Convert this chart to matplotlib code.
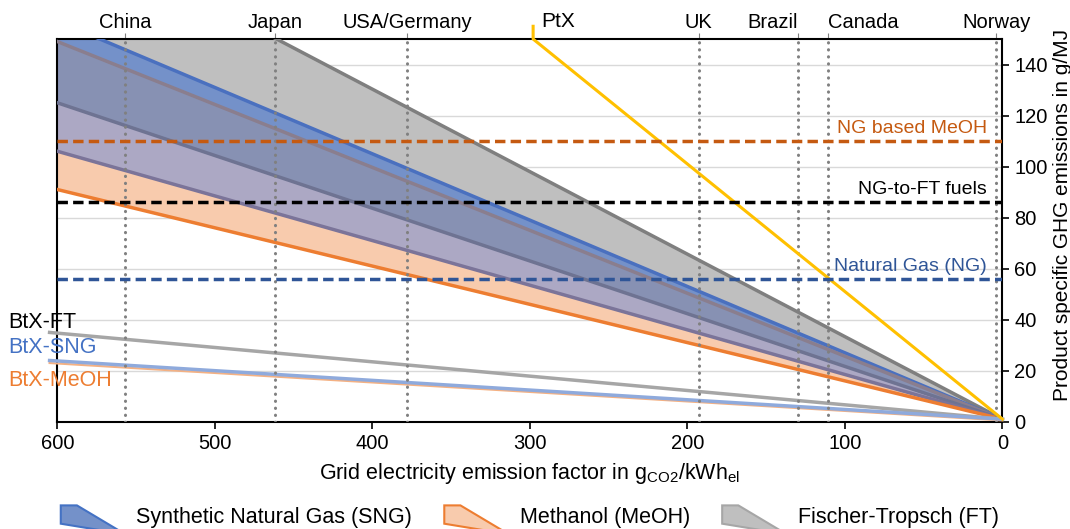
# GHG emissions of PtX / BtX products vs grid emission factor

import numpy as np
import matplotlib
matplotlib.use("Agg")
import matplotlib.pyplot as plt
from matplotlib.patches import Patch, Polygon
from matplotlib.legend_handler import HandlerPatch

plt.rcParams["font.family"] = ["Liberation Sans", "DejaVu Sans"]

# band edges (grid factor 600 -> 0)
x_ends = [600, 0]
ft_high = [195, 1]
sng_high = [157, 1]
meoh_high = [149, 1]
ft_low = [125, 1]
sng_low = [106, 1]
meoh_low = [91, 1]

# biomass routes
btx_x = [605, 0]
btx_ft = [35, 1]
btx_sng = [24, 1]
btx_meoh = [23, 0.5]

# PtX line
ptx_x = [0, 298, 298]
ptx_y = [1, 150, 155]

# fossil references
ref_names = ["NG based MeOH", "NG-to-FT fuels", "Natural Gas (NG)"]
ref_values = [110, 86, 56]
ref_colors = ["#c55a11", "black", "#2f5597"]

# countries
countries = ["China", "Japan", "USA/Germany", "UK", "Brazil", "Canada", "Norway"]
country_ef = [557, 462, 378, 193, 130, 111, 4]
country_ha = ["center", "center", "center", "center", "right", "left", "center"]

yticks = [0, 20, 40, 60, 80, 100, 120, 140]


class WedgeHandler(HandlerPatch):
    def create_artists(self, legend, orig_handle, xdescent, ydescent,
                       width, height, fontsize, trans):
        x0, y0 = -xdescent, -ydescent
        pts = [[x0, y0 + 1.05 * height], [x0 + 0.25 * width, y0 + 1.05 * height],
               [x0 + width, y0 - 0.45 * height], [x0, y0 + 0.1 * height]]
        p = Polygon(pts, closed=True, fc=orig_handle.get_facecolor(),
                    ec=orig_handle.get_edgecolor(), lw=1.5, transform=trans)
        return [p]


fig = plt.figure(figsize=(10.7, 5.29), dpi=100)
ax = fig.add_axes([0.0537, 0.2028, 0.8832, 0.7234])

# filled regions between consecutive edges
ax.fill_between(x_ends, ft_high, sng_high, color="#bfbfbf", lw=0, zorder=2)
ax.fill_between(x_ends, sng_high, meoh_high, color="#7491c9", lw=0, zorder=2)
ax.fill_between(x_ends, meoh_high, ft_low, color="#8791b3", lw=0, zorder=2)
ax.fill_between(x_ends, ft_low, sng_low, color="#aca8c4", lw=0, zorder=2)
ax.fill_between(x_ends, sng_low, meoh_low, color="#f8cbad", lw=0, zorder=2)

ax.plot(x_ends, ft_high, color="#7f7f7f", lw=2.5, zorder=3)
ax.plot(x_ends, sng_high, color="#4a70bf", lw=2.5, zorder=3)
ax.plot(x_ends, meoh_high, color="#8a7e8e", lw=2.5, zorder=3)
ax.plot(x_ends, ft_low, color="#6e7392", lw=2.5, zorder=3)
ax.plot(x_ends, sng_low, color="#7b7499", lw=2.5, zorder=3)
ax.plot(x_ends, meoh_low, color="#ed7d31", lw=2.5, zorder=3)

ax.plot(btx_x, btx_ft, color="#a6a6a6", lw=2.5, zorder=3, clip_on=False)
ax.plot(btx_x, btx_meoh, color="#f4b183", lw=1.5, zorder=3, clip_on=False)
ax.plot(btx_x, btx_sng, color="#8faadc", lw=2.5, zorder=3, clip_on=False)

ax.plot(ptx_x, ptx_y, color="#ffc000", lw=2.2, zorder=4, clip_on=False)
ax.text(293, 157, "PtX", fontsize=15, ha="left", va="center")

for name, val, col in zip(ref_names, ref_values, ref_colors):
    ax.axhline(val, color=col, lw=2.5, ls=(0, (3, 1.5)), zorder=4)
    ax.text(10, val + 1.5, name, color=col, fontsize=14, ha="right", va="bottom", zorder=5)

for xv in country_ef:
    ax.axvline(xv, color="#808080", lw=2.2, ls=(0, (0.1, 2.2)),
               dash_capstyle="round", zorder=3)

ax.text(631, 39, "BtX-FT", color="black", fontsize=15.5, ha="left", va="center")
ax.text(631, 29, "BtX-SNG", color="#4472c4", fontsize=15.5, ha="left", va="center")
ax.text(631, 16, "BtX-MeOH", color="#ed7d31", fontsize=15.5, ha="left", va="center")

ax.set_xlim(600, 0)
ax.set_ylim(0, 150)
ax.set_xticks([600, 500, 400, 300, 200, 100, 0])
ax.set_yticks(yticks)
ax.yaxis.tick_right()
ax.yaxis.set_label_position("right")
ax.grid(axis="y", color="#d9d9d9", lw=1, zorder=1)
ax.set_axisbelow(True)
ax.tick_params(axis="both", labelsize=14.5, width=1.2, length=5)

for s in ax.spines.values():
    s.set_linewidth(1.5)

ax.set_xlabel(r"Grid electricity emission factor in g$_{\mathregular{CO2}}$/kWh$_{\mathregular{el}}$",
              fontsize=15.5, labelpad=6)
ax.set_ylabel("Product specific GHG emissions in g/MJ", fontsize=15)
ax.yaxis.set_label_coords(1.053, 0.54)

top = ax.secondary_xaxis("top")
top.set_xticks(country_ef)
top.set_xticklabels(countries)
top.tick_params(labelsize=14.5, length=4, color="#808080", pad=1)
top.spines["top"].set_visible(False)
for lab, ha in zip(top.get_xticklabels(), country_ha):
    lab.set_ha(ha)

handles = [Patch(fc="#7491c9", ec="#4472c4"),
           Patch(fc="#f8cbad", ec="#ed7d31"),
           Patch(fc="#bfbfbf", ec="#a6a6a6")]
labels = ["Synthetic Natural Gas (SNG)", "Methanol (MeOH)", "Fischer-Tropsch (FT)"]
fig.legend(handles, labels, handler_map={Patch: WedgeHandler()}, ncol=3,
           loc="center", bbox_to_anchor=(0.495, 0.022), frameon=False, fontsize=15.5,
           handlelength=3.0, handleheight=1.0, handletextpad=0.5, columnspacing=1.5)

fig.savefig("out.png", dpi=100)
